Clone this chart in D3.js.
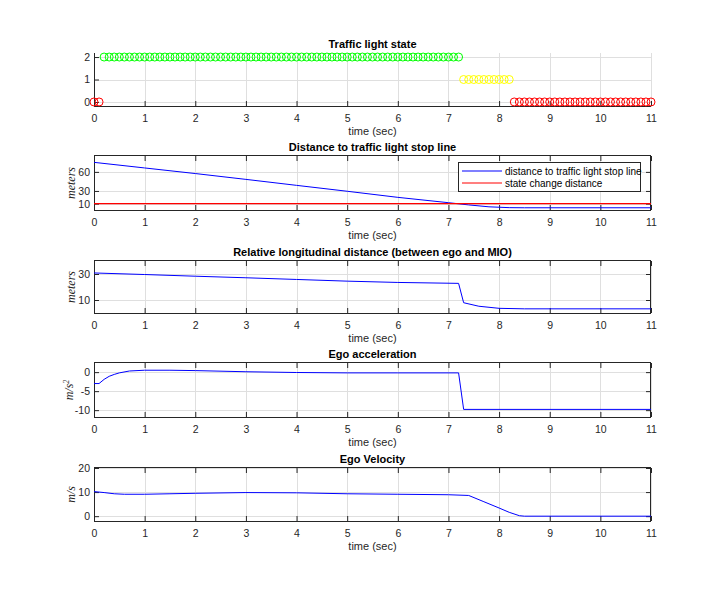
<!DOCTYPE html>
<html>
<head>
<meta charset="utf-8">
<script src="https://cdn.jsdelivr.net/npm/d3@7"></script>
<style>
  body { margin: 0; background: #fff; }
  text { font-family: "Liberation Sans", Arial, sans-serif; }
</style>
</head>
<body>
<script>
var w = 720;
var h = 600;

// x axis (shared)
var timeTicks = [0, 1, 2, 3, 4, 5, 6, 7, 8, 9, 10, 11];

// traffic light state: runs of [start, end, state], sampled every 0.1 s
var lightStep = 0.1;
var lightRuns = [[0, 0.1, 0], [0.2, 7.2, 2], [7.3, 8.2, 1], [8.3, 11, 0]];
var lightColors = {0: "#ff0000", 1: "#ffff00", 2: "#00ff00"};

// distance to stop line
var distTime = [0, 1, 2, 3, 4, 5, 6, 7, 7.4, 7.8, 8.2, 8.5, 11];
var distValue = [75, 66.2, 57.4, 48.2, 38.8, 29.5, 19.9, 11.5, 8, 5, 3.7, 3.5, 3.5];
var stateChangeDist = 10;

// relative longitudinal distance
var relTime = [0, 1, 2, 3, 4, 5, 6, 7.2, 7.3, 7.6, 8, 8.5, 11];
var relValue = [30.8, 29.6, 28.3, 27.1, 25.8, 24.5, 23.5, 22.8, 7.9, 5.2, 3.6, 3.2, 3.2];

// ego acceleration
var accTime = [0, 0.1, 0.2, 0.3, 0.4, 0.5, 0.7, 1, 1.5, 2, 3, 4, 5, 6, 7.2, 7.3, 11];
var accValue = [-3, -3, -1.9, -1.1, -0.6, -0.2, 0.3, 0.5, 0.5, 0.4, 0.1, -0.1, -0.2, -0.2, -0.2, -9.8, -9.8];

// ego velocity
var velTime = [0, 0.2, 0.4, 0.6, 1, 1.5, 2, 3, 4, 5, 6, 7, 7.4, 7.7, 8, 8.2, 8.4, 8.5, 11];
var velValue = [10.2, 9.8, 9.3, 9.1, 9.1, 9.3, 9.5, 9.8, 9.7, 9.3, 9.1, 8.9, 8.6, 6, 3.4, 1.6, 0.2, 0, 0];

var left = 94, right = 651;
var axisColor = "#262626";
var gridColor = "#dfdfdf";
var blue = "rgb(0,0,255)";
var red = "rgb(255,0,0)";

var svg = d3.select("body")
            .append("svg")
            .attr("width", w)
            .attr("height", h);

var xScale = d3.scaleLinear()
               .domain([0, 11])
               .range([left, right]);

function zip(xs, ys) {
    return xs.map(function(x, i) { return [x, ys[i]]; });
}

function plain(d) { return String(d); }

function drawPanel(p) {
    var yScale = d3.scaleLinear()
                   .domain(p.ydomain)
                   .range([p.bottom, p.top]);
    var g = svg.append("g");

    // grid
    g.append("g").selectAll("line")
        .data(timeTicks)
        .enter()
        .append("line")
        .attr("x1", function(d) { return Math.round(xScale(d)) + 0.5; })
        .attr("x2", function(d) { return Math.round(xScale(d)) + 0.5; })
        .attr("y1", p.top)
        .attr("y2", p.bottom)
        .attr("stroke", gridColor);
    g.append("g").selectAll("line")
        .data(p.yticks)
        .enter()
        .append("line")
        .attr("x1", left)
        .attr("x2", right)
        .attr("y1", function(d) { return Math.round(yScale(d)) + 0.5; })
        .attr("y2", function(d) { return Math.round(yScale(d)) + 0.5; })
        .attr("stroke", gridColor);

    // axes
    var xAxis = d3.axisBottom(xScale)
                  .tickValues(timeTicks)
                  .tickFormat(plain)
                  .tickSizeInner(-5)
                  .tickSizeOuter(0)
                  .tickPadding(9);
    var yAxis = d3.axisLeft(yScale)
                  .tickValues(p.yticks)
                  .tickFormat(plain)
                  .tickSizeInner(-5)
                  .tickSizeOuter(0)
                  .tickPadding(4);
    var ax = g.append("g")
              .attr("transform", "translate(0," + p.bottom + ")")
              .call(xAxis);
    var ay = g.append("g")
              .attr("transform", "translate(" + left + ",0)")
              .call(yAxis);
    ax.select(".domain").attr("d", "M" + left + ",0.5H" + right);
    ay.select(".domain").attr("d", "M0.5," + p.top + "V" + p.bottom);

    if (p.box) {
        var xTop = d3.axisTop(xScale).tickValues(timeTicks).tickSizeInner(-5).tickSizeOuter(0).tickFormat("");
        var yRight = d3.axisRight(yScale).tickValues(p.yticks).tickSizeInner(-5).tickSizeOuter(0).tickFormat("");
        var at = g.append("g").attr("transform", "translate(0," + p.top + ")").call(xTop);
        var ar = g.append("g").attr("transform", "translate(" + right + ",0)").call(yRight);
        at.select(".domain").attr("d", "M" + left + ",-0.5H" + right);
        ar.select(".domain").attr("d", "M-0.5," + p.top + "V" + p.bottom);
    }

    g.selectAll(".domain, .tick line").attr("stroke", axisColor);
    g.selectAll(".tick text")
        .attr("fill", axisColor)
        .style("font-size", "10.5px")
        .style("font-family", "'Liberation Sans', Arial, sans-serif");

    // data drawn above the axes
    var line = d3.line()
                 .x(function(d) { return xScale(d[0]); })
                 .y(function(d) { return yScale(d[1]); });
    var plot = g.append("g");
    p.draw(plot, line, yScale);

    // title and labels
    g.append("text")
        .attr("x", (left + right) / 2)
        .attr("y", p.top - 5)
        .attr("text-anchor", "middle")
        .style("font-size", "11px")
        .style("font-weight", "bold")
        .text(p.title);
    g.append("text")
        .attr("x", (left + right) / 2)
        .attr("y", p.bottom + 29)
        .attr("text-anchor", "middle")
        .attr("fill", axisColor)
        .style("font-size", "11px")
        .text("time (sec)");

    if (p.ylabel) {
        var yl = g.append("text")
                  .attr("transform", "translate(" + p.ylabelX + "," + (p.top + p.bottom) / 2 + ") rotate(-90)")
                  .attr("text-anchor", "middle")
                  .attr("fill", axisColor)
                  .style("font-family", "'Liberation Serif', 'DejaVu Serif', serif")
                  .style("font-style", "italic")
                  .style("font-size", "12px");
        yl.append("tspan").text(p.ylabel);
        if (p.ysup) {
            yl.append("tspan")
              .attr("dy", "-0.45em")
              .style("font-size", "8px")
              .text(p.ysup);
        }
    }
    return yScale;
}

// panel 1: traffic light state
drawPanel({
    top: 53, bottom: 106, ydomain: [-0.18, 2.18], yticks: [0, 1, 2], box: false,
    title: "Traffic light state",
    draw: function(plot, line, yScale) {
        var samples = [];
        lightRuns.forEach(function(r) {
            var n = Math.round((r[1] - r[0]) / lightStep);
            for (var i = 0; i <= n; i++) {
                samples.push({t: r[0] + i * lightStep, s: r[2]});
            }
        });
        plot.selectAll("circle")
            .data(samples)
            .enter()
            .append("circle")
            .attr("cx", function(d) { return xScale(d.t); })
            .attr("cy", function(d) { return yScale(d.s); })
            .attr("r", 4)
            .attr("fill", "none")
            .attr("stroke", function(d) { return lightColors[d.s]; });
    }
});

// panel 2: distance to stop line
drawPanel({
    top: 156, bottom: 210, ydomain: [0, 85], yticks: [10, 30, 60], box: true,
    title: "Distance to traffic light stop line",
    ylabel: "meters", ylabelX: 75,
    draw: function(plot, line, yScale) {
        plot.append("path")
            .attr("d", line(zip(distTime, distValue)))
            .attr("fill", "none")
            .attr("stroke", blue);
        plot.append("line")
            .attr("x1", xScale(0)).attr("x2", xScale(11))
            .attr("y1", yScale(stateChangeDist)).attr("y2", yScale(stateChangeDist))
            .attr("stroke", red)
            .attr("stroke-width", 1.2);

        var legend = plot.append("g");
        legend.append("rect")
            .attr("x", 458.5).attr("y", 162.5)
            .attr("width", 182).attr("height", 29)
            .attr("fill", "#fff")
            .attr("stroke", axisColor);
        var items = [["distance to traffic light stop line", blue], ["state change distance", red]];
        items.forEach(function(it, i) {
            var y = 171 + i * 12;
            legend.append("line")
                .attr("x1", 462).attr("x2", 502)
                .attr("y1", y).attr("y2", y)
                .attr("stroke", it[1])
                .attr("stroke-width", 1.2);
            legend.append("text")
                .attr("x", 505).attr("y", y)
                .attr("dy", "0.35em")
                .attr("fill", "#000")
                .style("font-size", "10px")
                .text(it[0]);
        });
    }
});

// panel 3: relative longitudinal distance
drawPanel({
    top: 261, bottom: 313, ydomain: [0, 40], yticks: [10, 30], box: true,
    title: "Relative longitudinal distance (between ego and MIO)",
    ylabel: "meters", ylabelX: 75,
    draw: function(plot, line) {
        plot.append("path")
            .attr("d", line(zip(relTime, relValue)))
            .attr("fill", "none")
            .attr("stroke", blue);
    }
});

// panel 4: ego acceleration
drawPanel({
    top: 363, bottom: 417, ydomain: [-11.8, 2.4], yticks: [-10, -5, 0], box: true,
    title: "Ego acceleration",
    ylabel: "m/s", ysup: "2", ylabelX: 73,
    draw: function(plot, line) {
        plot.append("path")
            .attr("d", line(zip(accTime, accValue)))
            .attr("fill", "none")
            .attr("stroke", blue);
    }
});

// panel 5: ego velocity
drawPanel({
    top: 468, bottom: 521, ydomain: [-2, 20], yticks: [0, 10, 20], box: true,
    title: "Ego Velocity",
    ylabel: "m/s", ylabelX: 75,
    draw: function(plot, line) {
        plot.append("path")
            .attr("d", line(zip(velTime, velValue)))
            .attr("fill", "none")
            .attr("stroke", blue);
    }
});
</script>
</body>
</html>
